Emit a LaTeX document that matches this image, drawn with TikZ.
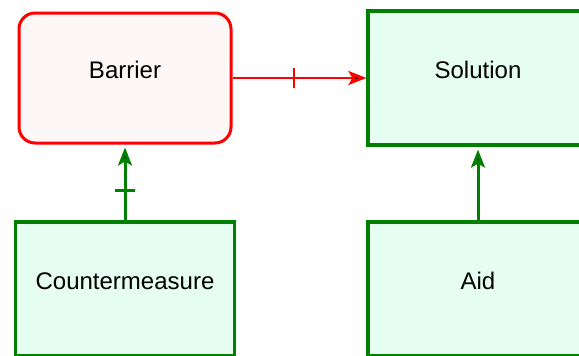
\documentclass[tikz,border=0pt]{standalone}
\usepackage{fontspec}
\setmainfont{Liberation Sans}
\usetikzlibrary{arrows.meta}

\definecolor{barrierred}{RGB}{255,0,0}
\definecolor{barrierfill}{RGB}{253,247,247}
\definecolor{boxgreen}{RGB}{0,128,0}
\definecolor{boxfill}{RGB}{230,253,242}

\begin{document}
\begin{tikzpicture}
            [x=1pt, y=-1pt, >={Stealth[length=18pt,width=14pt,inset=4pt]}, semithick,
             every node/.style={font=\fontsize{24}{28}\selectfont, text height=17pt, text depth=17pt},
             redbox/.style={shape=rectangle, rounded corners=16pt, draw=barrierred, fill=barrierfill, line width=3pt},
             greenbox/.style={shape=rectangle, draw=boxgreen, fill=boxfill, line width=3.2pt},
             tick/.style={shape=rectangle, draw, sloped, minimum width=0pt, minimum height=20pt, inner sep=0pt, text height=0pt, text depth=0pt, line width=2.8pt}]
            \useasboundingbox (0,0) rectangle (579,356);
            \clip (0,0) rectangle (579,356);
            \fill[white] (0,0) rectangle (579,356);

            \node[redbox, minimum width=212pt, minimum height=130pt] (barrier) at (125, 78) {Barrier};
            \node[greenbox, minimum width=220pt, minimum height=134pt] (solution) at (478, 78) {Solution};
            \node[greenbox, minimum width=219pt, minimum height=134pt] (counter) at (125, 289) {Countermeasure};
            \node[greenbox, minimum width=220pt, minimum height=134pt] (aid) at (478, 289) {Aid};

            \path [->, draw=barrierred, line width=2.8pt] (barrier) edge node[tick, pos=0.46] {} (solution);
            \path [->, draw=boxgreen, line width=3pt, shorten >=3pt] (counter) edge node[tick, pos=0.39] {} (barrier);
            \path [->, draw=boxgreen, line width=3pt, shorten >=3pt] (aid) edge (solution);
        \end{tikzpicture}
\end{document}
